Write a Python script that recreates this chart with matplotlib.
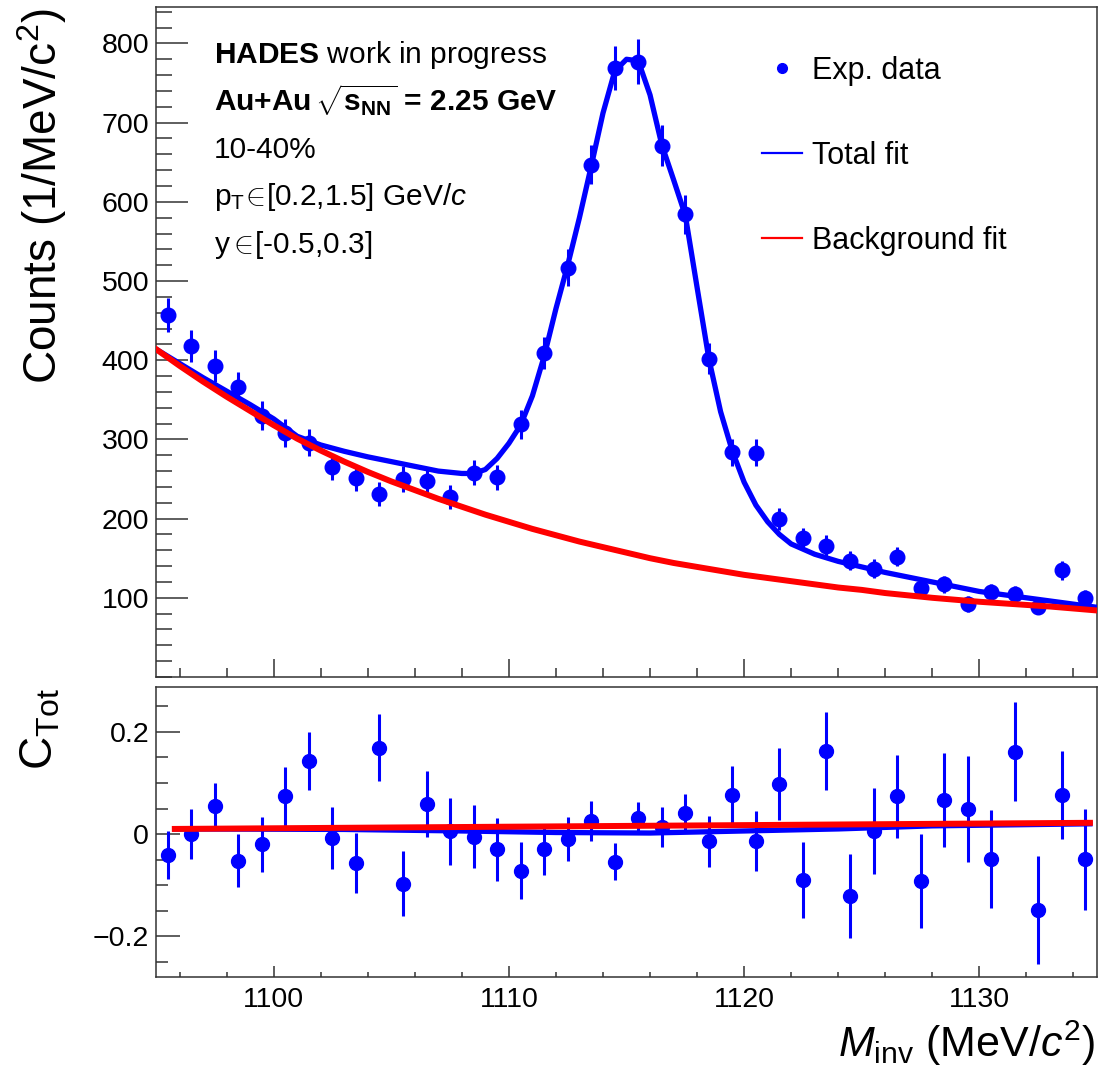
import numpy as np
import matplotlib
matplotlib.use("Agg")
import matplotlib.pyplot as plt
from matplotlib.ticker import FixedLocator, MultipleLocator, FixedFormatter
from matplotlib.lines import Line2D

plt.rcParams['font.family'] = ['Liberation Sans', 'DejaVu Sans']
plt.rcParams['mathtext.fontset'] = 'custom'
plt.rcParams['mathtext.rm'] = 'Liberation Sans'
plt.rcParams['mathtext.it'] = 'Liberation Sans:italic'
plt.rcParams['mathtext.bf'] = 'Liberation Sans:bold'
plt.rcParams['axes.unicode_minus'] = True

# ---------------- data ----------------
mass = [1095.5, 1096.5, 1097.5, 1098.5, 1099.5, 1100.5, 1101.5, 1102.5, 1103.5, 1104.5,
        1105.5, 1106.5, 1107.5, 1108.5, 1109.5, 1110.5, 1111.5, 1112.5, 1113.5, 1114.5,
        1115.5, 1116.5, 1117.5, 1118.5, 1119.5, 1120.5, 1121.5, 1122.5, 1123.5, 1124.5,
        1125.5, 1126.5, 1127.5, 1128.5, 1129.5, 1130.5, 1131.5, 1132.5, 1133.5, 1134.5]
counts = [457, 418, 393, 366, 330, 308, 296, 265, 251, 231,
          250, 247, 227, 258, 252, 319, 409, 517, 647, 769,
          777, 671, 584, 402, 284, 283, 199, 175, 166, 147,
          137, 152, 113, 117, 92, 107, 105, 88, 135, 100]
counts_err = [21, 20, 20, 19, 18, 18, 17, 16, 16, 15,
              16, 16, 15, 16, 16, 18, 20, 23, 25, 28,
              28, 26, 24, 20, 17, 17, 14, 13, 13, 12,
              12, 12, 11, 11, 10, 10, 10, 9, 12, 10]

fit_mass = [1095, 1096, 1097, 1098, 1099, 1100, 1101, 1102, 1103, 1104, 1105, 1106, 1107,
            1108, 1108.5, 1109, 1109.5, 1110, 1110.5, 1111, 1111.5, 1112, 1112.5, 1113,
            1113.5, 1114, 1114.5, 1115, 1115.5, 1116, 1116.5, 1117, 1117.5, 1118, 1118.5,
            1119, 1119.5, 1120, 1120.5, 1121, 1121.5, 1122, 1123, 1124, 1125, 1126, 1127,
            1128, 1129, 1130, 1131, 1132, 1133, 1134, 1135]
total_fit = [414, 396, 378, 361, 344, 326, 304, 293, 285, 278, 272, 266, 260,
             257, 257, 262, 276, 295, 318, 355, 405, 465, 520, 580,
             645, 712, 765, 780, 778, 735, 672, 628, 583, 492, 402,
             335, 285, 246, 217, 196, 180, 168, 155, 146, 139, 132, 126,
             120, 114, 108, 104, 100, 96, 92, 88]

bg_mass = [1095, 1096, 1097, 1098, 1099, 1100, 1101, 1102, 1103, 1104, 1105, 1106, 1107,
           1108, 1109, 1110, 1111, 1112, 1113, 1114, 1115, 1116, 1117, 1118, 1119, 1120,
           1121, 1122, 1123, 1124, 1125, 1126, 1127, 1128, 1129, 1130, 1131, 1132, 1133,
           1134, 1135]
bg_fit = [414, 393, 373, 354, 336, 318, 301, 286, 272, 259, 247, 236, 225,
          215, 205, 196, 187, 179, 171, 164, 157, 150, 144, 139, 134, 129,
          125, 121, 117, 113, 110, 106, 103, 100, 97.5, 95, 93, 91, 89,
          86.5, 84]

ctot = [-0.041, 0.000, 0.054, -0.052, -0.020, 0.074, 0.143, -0.008, -0.057, 0.169,
        -0.097, 0.059, 0.005, -0.005, -0.030, -0.072, -0.030, -0.009, 0.026, -0.054,
        0.032, 0.014, 0.041, -0.014, 0.076, -0.014, 0.098, -0.090, 0.163, -0.122,
        0.006, 0.074, -0.092, 0.067, 0.049, -0.049, 0.161, -0.149, 0.076, -0.049]
ctot_err = [0.047, 0.049, 0.046, 0.052, 0.054, 0.058, 0.057, 0.061, 0.059, 0.066,
            0.063, 0.064, 0.066, 0.061, 0.062, 0.056, 0.050, 0.043, 0.039, 0.036,
            0.030, 0.039, 0.037, 0.050, 0.058, 0.059, 0.070, 0.075, 0.077, 0.082,
            0.085, 0.081, 0.093, 0.092, 0.103, 0.096, 0.097, 0.106, 0.086, 0.099]

ctot_bg_mass = [1095.8, 1134.7]
ctot_bg = [0.010, 0.022]
ctot_tot_mass = [1095.8, 1103, 1108, 1112, 1116, 1120, 1124, 1128, 1134.7]
ctot_tot = [0.010, 0.009, 0.006, 0.003, 0.002, 0.006, 0.010, 0.016, 0.020]

# ---------------- figure ----------------
W, H = 1099, 1068
fig = plt.figure(figsize=(W / 100, H / 100), dpi=100)


def rect(l, t, r, b):
    return [l / W, 1 - b / H, (r - l) / W, (b - t) / H]


ax1 = fig.add_axes(rect(156, 7, 1097, 677))
ax2 = fig.add_axes(rect(156, 687, 1097, 977))

BLUE = '#0000ff'
RED = '#ff0000'
FRAME = '#333333'
PX = 0.72  # points per pixel

for ax in (ax1, ax2):
    for sp in ax.spines.values():
        sp.set_color(FRAME)
        sp.set_linewidth(1.1)
    ax.set_xlim(1095, 1135)
    ax.xaxis.set_major_locator(MultipleLocator(10))
    ax.xaxis.set_minor_locator(MultipleLocator(2))

# ---- top panel ----
ax1.errorbar(mass, counts, yerr=counts_err, fmt='o', color=BLUE, ms=10.5,
             elinewidth=2.2, capsize=0, zorder=3)
ax1.plot(fit_mass, total_fit, color=BLUE, lw=3.8, zorder=4, solid_joinstyle='round')
ax1.plot(bg_mass, bg_fit, color=RED, lw=4.3, zorder=5, solid_joinstyle='round')

ax1.set_ylim(0, 846)
ax1.yaxis.set_major_locator(FixedLocator([100, 200, 300, 400, 500, 600, 700, 800]))
ax1.yaxis.set_minor_locator(MultipleLocator(20))
ax1.tick_params(axis='y', which='major', direction='in', length=32 * PX, width=1.1,
                color=FRAME, labelsize=20.5, pad=5)
ax1.tick_params(axis='y', which='minor', direction='in', length=16 * PX, width=1.1, color=FRAME)
ax1.tick_params(axis='x', which='major', direction='in', length=18 * PX, width=1.1,
                color=FRAME, labelbottom=False)
ax1.tick_params(axis='x', which='minor', direction='in', length=9 * PX, width=1.1, color=FRAME)

# info text
tx = 214 / W
fs_info = 21.5
fig.text(tx, 1 - 55 / H, r"$\mathbf{HADES}$ work in progress", fontsize=fs_info, va='center', ha='left')
fig.text(tx, 1 - 100 / H, r"Au+Au $\!\sqrt{\mathbf{s}_{\mathbf{NN}}}$ = 2.25 GeV", fontsize=fs_info,
         fontweight='bold', va='center', ha='left')
fig.text(tx, 1 - 150 / H, "10-40%", fontsize=fs_info, va='center', ha='left')
fig.text(tx, 1 - 197 / H, r"p$_\mathrm{T}\!\in\!$[0.2,1.5] GeV/$c$", fontsize=fs_info,
         va='center', ha='left')
fig.text(tx, 1 - 245 / H, r"y$\in\!$[-0.5,0.3]", fontsize=fs_info, va='center', ha='left')

# legend
handles = [Line2D([], [], marker='o', ls='none', color=BLUE, ms=7),
           Line2D([], [], color=BLUE, lw=1.6),
           Line2D([], [], color=RED, lw=1.6)]
labels = ['Exp. data', 'Total fit', 'Background fit']
leg = ax1.legend(handles, labels, loc='upper left', frameon=False, fontsize=22,
                 bbox_to_anchor=(762 / W, 1 - 56 / H), bbox_transform=fig.transFigure,
                 borderpad=0, borderaxespad=0, handlelength=1.3, handletextpad=0.33,
                 labelspacing=1.8)

# ---- lower panel ----
ax2.errorbar(mass, ctot, yerr=ctot_err, fmt='o', color=BLUE, ms=10,
             elinewidth=2.2, capsize=0, zorder=3)
ax2.plot(ctot_tot_mass, ctot_tot, color=BLUE, lw=3.8, zorder=4)
ax2.plot(ctot_bg_mass, ctot_bg, color=RED, lw=4.3, zorder=5)

ax2.set_ylim(-0.28, 0.288)
ax2.yaxis.set_major_locator(FixedLocator([-0.2, 0.0, 0.2]))
ax2.yaxis.set_major_formatter(FixedFormatter(['\u22120.2', '0', '0.2']))
ax2.yaxis.set_minor_locator(MultipleLocator(0.05))
ax2.tick_params(axis='y', which='major', direction='in', length=24 * PX, width=1.1,
                color=FRAME, labelsize=20.5, pad=5)
ax2.tick_params(axis='y', which='minor', direction='in', length=12 * PX, width=1.1, color=FRAME)
ax2.tick_params(axis='x', which='major', direction='in', length=11 * PX, width=1.1,
                color=FRAME, labelsize=20.5, pad=7)
ax2.tick_params(axis='x', which='minor', direction='in', length=5 * PX, width=1.1, color=FRAME)

# axis titles
fig.text(42 / W, 1 - 8 / H, r"Counts (1/MeV/c$^{2}$)", rotation=90, fontsize=33,
         ha='center', va='top')
fig.text(40 / W, 1 - 688 / H, r"C$_{\mathrm{Tot}}$", rotation=90, fontsize=33,
         ha='center', va='top')
fig.text(1095 / W, 1 - 1057 / H, r"$M_{\mathrm{inv}}$ (MeV/$c^{2}$)", fontsize=31,
         ha='right', va='baseline')

fig.savefig('out.png', dpi=100)
